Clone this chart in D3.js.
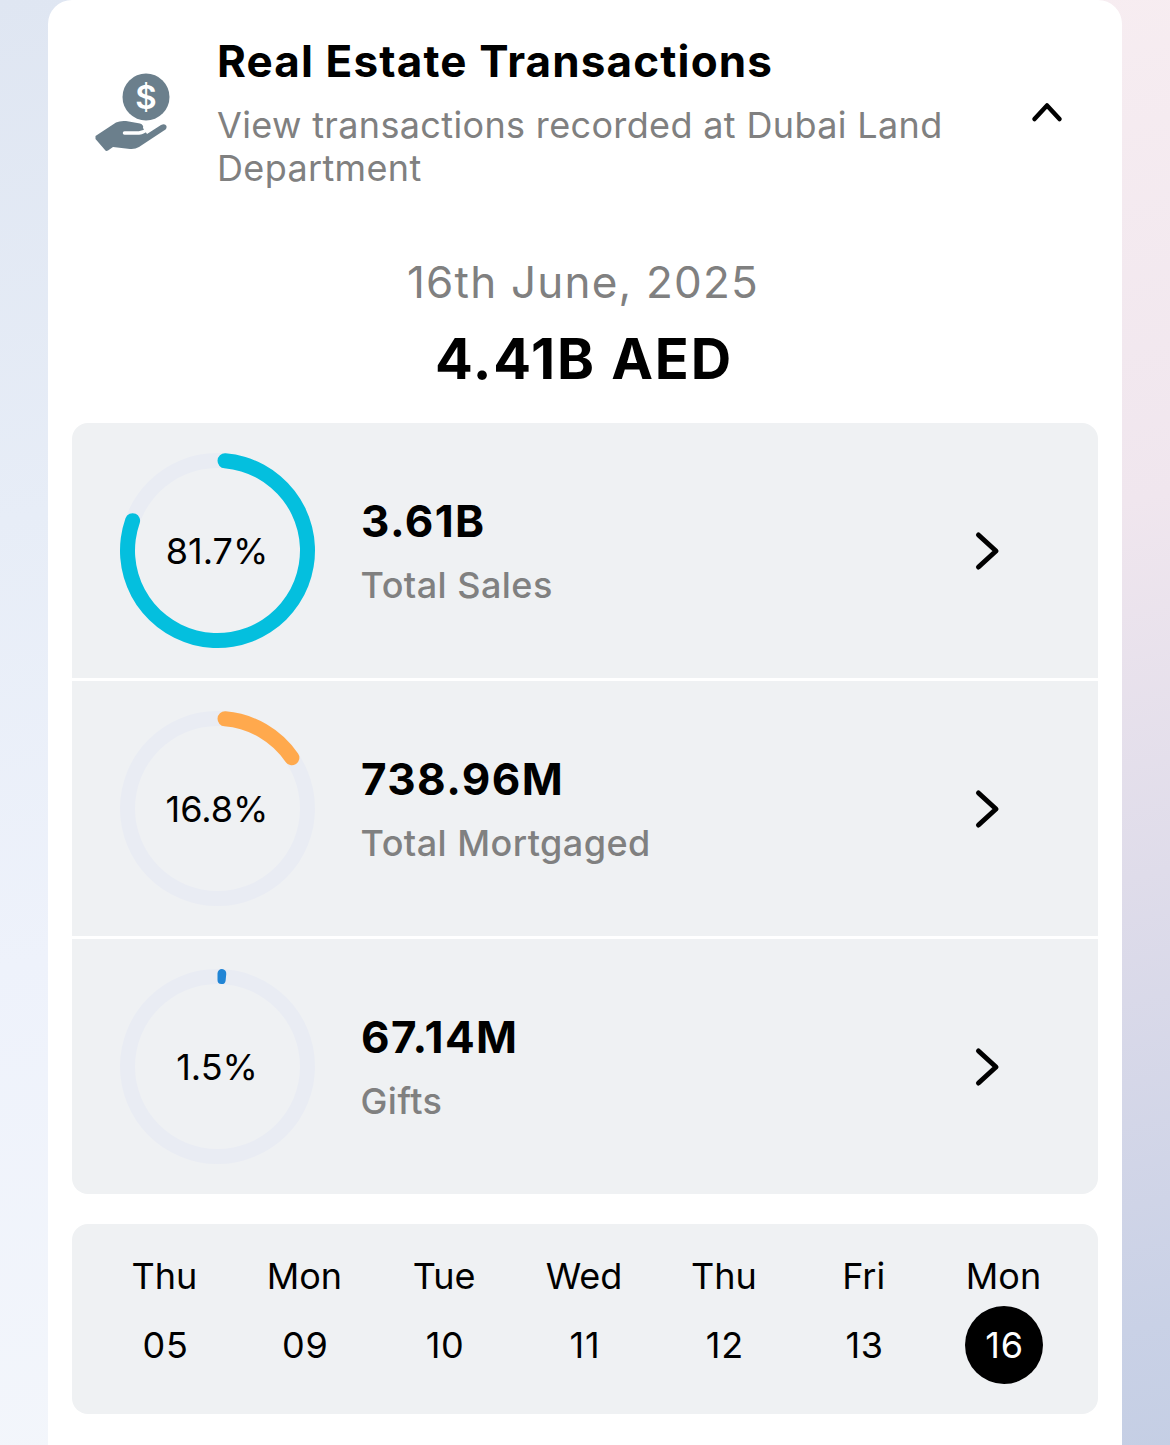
<!DOCTYPE html>
<html>
<head>
<meta charset="utf-8">
<script src="https://cdnjs.cloudflare.com/ajax/libs/d3/7.8.5/d3.min.js"></script>
<style>
html, body { margin: 0; padding: 0; background: #fff; overflow: hidden; }
svg { display: block; }
text { font-family: Inter, "Noto Sans", sans-serif; }
</style>
</head>
<body>
<svg id="chart" width="1170" height="1445"></svg>
<script>
// valeurs
var rowLabels = ['Total Sales', 'Total Mortgaged', 'Gifts'];
var rowAmounts = ['3.61B', '738.96M', '67.14M'];
var rowPercents = [81.7, 16.8, 1.5];
var rowColors = ['#04bfde', '#ffa94d', '#2185d5'];
var dayNames = ['Thu', 'Mon', 'Tue', 'Wed', 'Thu', 'Fri', 'Mon'];
var dayNumbers = ['05', '09', '10', '11', '12', '13', '16'];
var selectedDay = '16';

var svg = d3.select('#chart');
var defs = svg.append('defs');

function gradient(id, stops) {
    var g = defs.append('linearGradient').attr('id', id)
        .attr('gradientUnits', 'userSpaceOnUse')
        .attr('x1', stops.from[0]).attr('y1', stops.from[1])
        .attr('x2', stops.to[0]).attr('y2', stops.to[1]);
    stops.list.forEach(function(s) {
        g.append('stop').attr('offset', s[0]).attr('stop-color', s[1]);
    });
}
gradient('bgLeft', {
    from: [0, 0], to: [250, 1445],
    list: [[0, '#dfe6f2'], [0.35, '#e7edf7'], [0.65, '#eef2fb'], [1, '#f3f6fb']]
});
gradient('bgRight', {
    from: [1000, 0], to: [1300, 1445],
    list: [[0, '#f7edf1'], [0.35, '#f0e6ee'], [0.6, '#dfdcea'], [0.9, '#c9d1e6'], [1, '#c4cee4']]
});

svg.append('rect').attr('width', 100).attr('height', 1445).attr('fill', 'url(#bgLeft)');
svg.append('rect').attr('x', 1070).attr('width', 100).attr('height', 1445).attr('fill', 'url(#bgRight)');

// carte blanche
svg.append('rect').attr('x', 48).attr('y', 0).attr('width', 1074).attr('height', 1600)
    .attr('rx', 24).attr('fill', '#fff');

// entete
var icon = svg.append('g').attr('fill', '#6b7f8c');
icon.append('circle').attr('cx', 146).attr('cy', 97).attr('r', 23.5);
icon.append('text').attr('x', 146).attr('y', 109).attr('text-anchor', 'middle')
    .attr('font-size', 33).attr('font-weight', 600).attr('fill', '#fff').text('$');
icon.append('path').attr('d', 'M95.500 136 L116 122.500 Q120 120.500 126 121 L140 123.500 Q144 125 143 128 L147 134 L161 125 Q165 123 166.500 126 Q167 129 164 130.500 L139 147 Q135 149.500 130 149 L113 147 L108 150.500 Q106 151.500 105 150 L95.500 139 Z');
svg.append('path').attr('d', 'M124.500 133 L139 133 Q144 132.500 149 128').attr('fill', 'none')
    .attr('stroke', '#fff').attr('stroke-width', 3.5).attr('stroke-linecap', 'round');

svg.append('text').attr('x', 217).attr('y', 77).attr('font-size', 44).attr('font-weight', 700)
    .attr('letter-spacing', 1.14).attr('fill', '#000').text('Real Estate Transactions');
svg.append('text').attr('x', 217).attr('y', 138).attr('font-size', 36).attr('fill', '#808080')
    .attr('letter-spacing', 0.35).text('View transactions recorded at Dubai Land');
svg.append('text').attr('x', 217).attr('y', 181).attr('font-size', 36).attr('fill', '#808080')
    .attr('letter-spacing', 0.35).text('Department');

svg.append('path').attr('d', 'M1034.500 119 L1047 105.500 L1059.500 119').attr('fill', 'none')
    .attr('stroke', '#000').attr('stroke-width', 4.5).attr('stroke-linecap', 'round').attr('stroke-linejoin', 'round');

svg.append('text').attr('x', 583).attr('y', 298).attr('text-anchor', 'middle').attr('font-size', 44)
    .attr('letter-spacing', 1.2).attr('fill', '#808080').text('16th June, 2025');
svg.append('text').attr('x', 584).attr('y', 379).attr('text-anchor', 'middle').attr('font-size', 56)
    .attr('letter-spacing', 1.9).attr('font-weight', 700).attr('fill', '#000').text('4.41B AED');

// panneau des lignes
svg.append('rect').attr('x', 72).attr('y', 423).attr('width', 1026).attr('height', 771)
    .attr('rx', 16).attr('fill', '#eff1f3');
svg.selectAll('.divider').data([679.5, 937.5]).enter().append('rect').attr('class', 'divider')
    .attr('x', 72).attr('width', 1026).attr('y', function(d) { return d - 1.5; }).attr('height', 3)
    .attr('fill', '#fff');

var angle = d3.scaleLinear().domain([0, 100]).range([0, 2 * Math.PI]);
var rowY = d3.scaleLinear().domain([0, 2]).range([550.5, 1066.5]);
var arc = d3.arc().innerRadius(82.5).outerRadius(97.5).cornerRadius(7.5).startAngle(0);
var track = d3.arc().innerRadius(82.5).outerRadius(97.5).startAngle(0).endAngle(2 * Math.PI);

var rows = svg.selectAll('.row').data(rowPercents).enter().append('g').attr('class', 'row')
    .attr('transform', function(d, i) { return 'translate(0,' + rowY(i) + ')'; });

rows.append('path').attr('transform', 'translate(217.5,0)').attr('d', track()).attr('fill', '#e9ecf3');
rows.append('path').attr('transform', 'translate(217.5,0)')
    .attr('d', function(d) { return arc({ endAngle: angle(d) }); })
    .attr('fill', function(d, i) { return rowColors[i]; });
rows.append('text').attr('x', 217).attr('y', 13).attr('text-anchor', 'middle').attr('font-size', 36)
    .attr('fill', '#000').text(function(d) { return d + '%'; });
rows.append('text').attr('x', 361).attr('y', -14).attr('font-size', 44).attr('font-weight', 700)
    .attr('letter-spacing', 1.4).attr('fill', '#000').text(function(d, i) { return rowAmounts[i]; });
rows.append('text').attr('x', 360.5).attr('y', 47).attr('font-size', 36).attr('font-weight', 500)
    .attr('letter-spacing', 0.45).attr('fill', '#808080').text(function(d, i) { return rowLabels[i]; });
rows.append('path').attr('d', 'M978.500 -15.500 L996 0.500 L978.500 16.500').attr('fill', 'none')
    .attr('stroke', '#000').attr('stroke-width', 5).attr('stroke-linecap', 'round').attr('stroke-linejoin', 'round');

// bandeau des jours
svg.append('rect').attr('x', 72).attr('y', 1224).attr('width', 1026).attr('height', 190)
    .attr('rx', 16).attr('fill', '#eff1f3');

var dayX = d3.scalePoint().domain(dayNumbers).range([165, 1004]);
var days = svg.selectAll('.day').data(dayNumbers).enter().append('g').attr('class', 'day')
    .attr('transform', function(d) { return 'translate(' + dayX(d) + ',0)'; });
days.filter(function(d) { return d === selectedDay; }).append('circle')
    .attr('cy', 1345).attr('r', 39).attr('fill', '#000');
days.append('text').attr('x', -0.5).attr('y', 1289).attr('text-anchor', 'middle').attr('font-size', 36).attr('fill', '#000')
    .text(function(d, i) { return dayNames[i]; });
days.append('text').attr('x', 0.5).attr('y', 1358).attr('text-anchor', 'middle').attr('font-size', 36)
    .attr('letter-spacing', 0.8)
    .attr('fill', function(d) { return d === selectedDay ? '#fff' : '#000'; })
    .text(function(d) { return d; });
</script>
</body>
</html>
